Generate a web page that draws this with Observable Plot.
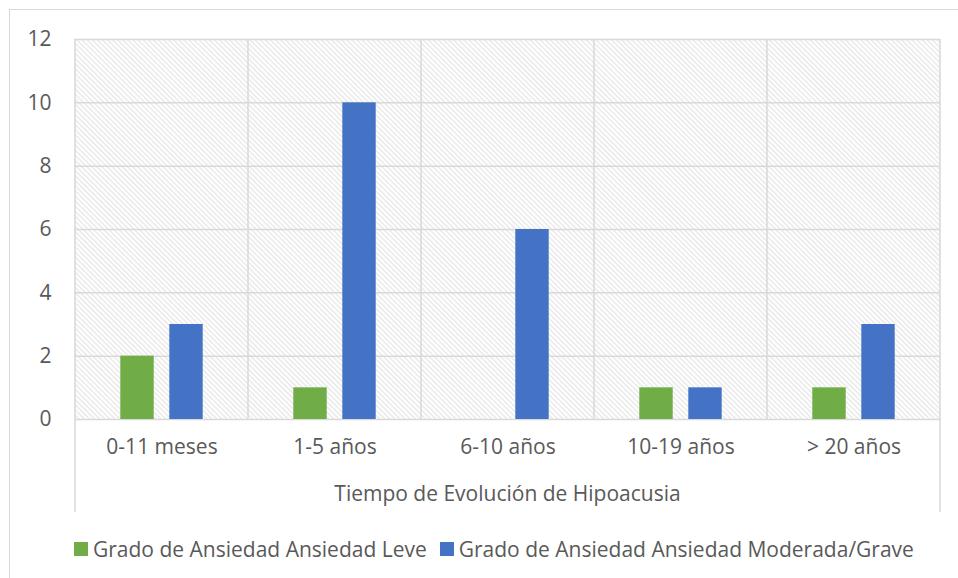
<!DOCTYPE html>
<html>
<head>
<meta charset="utf-8">
<script src="https://cdn.jsdelivr.net/npm/d3@7"></script>
<script src="https://cdn.jsdelivr.net/npm/@observablehq/plot@0.6"></script>
<style>
  html, body { margin: 0; padding: 0; background: #fff; overflow: hidden; }
  #wrap { position: relative; width: 958px; height: 578px; overflow: hidden; font-family: "Open Sans", sans-serif; }
  #border { position: absolute; left: 9px; top: 9px; width: 980px; height: 600px; border: 1.5px solid #d9d9d9; box-sizing: border-box; }
  #chart { position: absolute; left: 0; top: 0; }
  #legend { position: absolute; left: 74px; top: 535px; display: flex; align-items: center; font-size: 21px; color: #595959; white-space: nowrap; }
  .sw { display: inline-block; width: 14px; height: 14px; margin-right: 5px; }
  .item { display: flex; align-items: center; margin-right: 13px; }
</style>
</head>
<body>
<div id="wrap">
  <div id="border"></div>
  <div id="chart"></div>
  <div id="legend"></div>
</div>
<script>
// ---- data ----
const categories = ["0-11 meses", "1-5 años", "6-10 años", "10-19 años", "> 20 años"];
const seriesNames = ["Grado de Ansiedad Ansiedad Leve", "Grado de Ansiedad Ansiedad Moderada/Grave"];
const leve = [2, 1, 0, 1, 1];
const moderada = [3, 10, 6, 1, 3];
const yTicks = [0, 2, 4, 6, 8, 10, 12];
const xTitle = "Tiempo de Evolución de Hipoacusia";
const colors = ["#70AD47", "#4472C4"];

const leveData = categories.map((c, i) => ({cat: c, value: leve[i]})).filter(d => d.value > 0);
const modData = categories.map((c, i) => ({cat: c, value: moderada[i]})).filter(d => d.value > 0);

const defs = () => {
  const g = d3.create("svg:defs");
  const s = 3.6;
  const p = g.append("pattern")
    .attr("id", "hatch")
    .attr("patternUnits", "userSpaceOnUse")
    .attr("width", s).attr("height", s)
    .attr("patternTransform", "rotate(-45)");
  p.append("rect").attr("width", s).attr("height", s).attr("fill", "#ffffff");
  p.append("line").attr("x1", 1).attr("x2", 1).attr("y1", 0).attr("y2", s)
    .attr("stroke", "#dedede").attr("stroke-width", 1);
  return g.node();
};

const W = 958, H = 525;
const plot = Plot.plot({
  width: W,
  height: H,
  marginLeft: 74,
  marginRight: 18,
  marginTop: 39,
  marginBottom: 106,
  style: {fontFamily: "Open Sans, sans-serif", fontSize: "21px", color: "#595959", background: "transparent"},
  x: {domain: categories, padding: 0, label: null},
  y: {domain: [0, 12], label: null},
  marks: [
    defs,
    Plot.frame({fill: "url(#hatch)", stroke: null}),
    Plot.gridY(yTicks, {stroke: "#d9d9d9", strokeOpacity: 1, strokeWidth: 1.5}),
    Plot.barY(leveData, {x: "cat", y: "value", fill: colors[0], insetLeft: 69.8, insetRight: 69.8, dx: -24.5}),
    Plot.barY(modData, {x: "cat", y: "value", fill: colors[1], insetLeft: 69.8, insetRight: 69.8, dx: 24.5}),
    Plot.axisY(yTicks, {tickSize: 0, tickPadding: 23, label: null, fill: "#595959"}),
    Plot.axisX({tickSize: 0, tickPadding: 20, label: null, fill: "#595959"}),
    Plot.text([xTitle], {frameAnchor: "bottom", dy: 75, text: d => d, fill: "#595959", fontSize: 21, lineAnchor: "middle"})
  ]
});

// vertical category separators (from the x scale); outer ones extend below the axis
const sx = plot.scale("x");
const svg = d3.select(plot);
const last = sx.apply(categories[categories.length - 1]) + sx.bandwidth;
const xs = categories.map(c => sx.apply(c)).concat([last]);
const yBottom = plot.scale("y").apply(0);
svg.append("g").selectAll("line").data(xs).join("line")
  .attr("x1", d => d).attr("x2", d => d)
  .attr("y1", 39)
  .attr("y2", (d, i) => (i === 0 || i === xs.length - 1) ? 512 : yBottom)
  .attr("stroke", "#d9d9d9").attr("stroke-width", 1.5);

document.getElementById("chart").appendChild(plot);

const legend = d3.select("#legend");
seriesNames.forEach((s, i) => {
  const it = legend.append("div").attr("class", "item");
  it.append("span").attr("class", "sw").style("background", colors[i]);
  it.append("span").text(s);
});
</script>
</body>
</html>
